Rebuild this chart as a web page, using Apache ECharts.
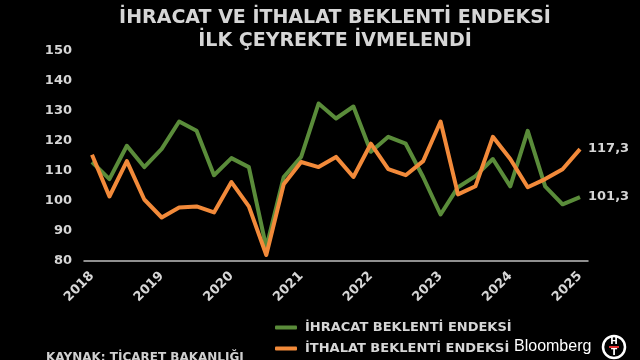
<!DOCTYPE html>
<html>
<head>
<meta charset="utf-8">
<script src="https://cdn.jsdelivr.net/npm/echarts@6/dist/echarts.min.js"></script>
<style>
html,body{margin:0;padding:0;background:#000;}
#c{width:640px;height:360px;}
</style>
</head>
<body>
<div id="c"></div>
<script>
var categories = ['2018Ç1','2018Ç2','2018Ç3','2018Ç4','2019Ç1','2019Ç2','2019Ç3','2019Ç4','2020Ç1','2020Ç2','2020Ç3','2020Ç4','2021Ç1','2021Ç2','2021Ç3','2021Ç4','2022Ç1','2022Ç2','2022Ç3','2022Ç4','2023Ç1','2023Ç2','2023Ç3','2023Ç4','2024Ç1','2024Ç2','2024Ç3','2024Ç4','2025Ç1'];
var yearLabels = ['2018','2019','2020','2021','2022','2023','2024','2025'];
var ihracat = [113.0,107.3,118.4,111.3,117.4,126.5,123.4,108.6,114.3,111.3,84.5,108.0,114.7,132.5,127.5,131.5,116.4,121.4,119.1,108.0,95.5,104.6,108.3,114.0,104.9,123.4,104.9,98.9,101.3];
var ithalat = [115.4,101.5,113.3,100.5,94.5,97.8,98.2,96.2,106.3,98.2,82.0,105.6,113.0,111.3,114.7,108.0,119.1,110.6,108.6,113.3,126.5,102.2,104.9,121.4,114.0,104.6,107.3,110.6,117.3];
var seriesNames = ['İHRACAT BEKLENTİ ENDEKSİ','İTHALAT BEKLENTİ ENDEKSİ'];
var yTicks = [80,90,100,110,120,130,140,150];

var GREEN = '#5a8c3a', ORANGE = '#f28a3a', TXT = '#d6d6d6';
var FONT = 'DejaVu Sans';

var chart = echarts.init(document.getElementById('c'), null, {renderer:'canvas'});
chart.setOption({
  backgroundColor:'#000',
  animation:false,
  title:{
    text:'İHRACAT VE İTHALAT BEKLENTİ ENDEKSİ\nİLK ÇEYREKTE İVMELENDİ',
    left:330, top:2, textAlign:'center',
    textStyle:{color:TXT, fontFamily:FONT, fontWeight:'bold', fontSize:19, lineHeight:23}
  },
  legend:{
    orient:'vertical', left:270, top:316, itemGap:8,
    itemWidth:22, itemHeight:4, icon:'roundRect',
    textStyle:{color:TXT, fontFamily:FONT, fontWeight:'bold', fontSize:13, padding:[0,0,0,3]},
    data:[{name:seriesNames[0]},{name:seriesNames[1]}]
  },
  grid:[
    {left:92, right:60, top:51, bottom:99},
    {left:84, right:52, top:51, bottom:99}
  ],
  xAxis:[
    {type:'category', gridIndex:0, data:categories, boundaryGap:false,
     axisLine:{show:false}, axisTick:{show:false},
     axisLabel:{interval:3, rotate:45, margin:13, color:TXT, fontFamily:FONT, fontWeight:'bold', fontSize:13,
       formatter:function(v,i){return yearLabels[i/4];}}},
    {type:'value', gridIndex:1, min:0, max:1,
     axisLine:{show:true, lineStyle:{color:'#bfbfbf', width:1.5}},
     axisTick:{show:false}, axisLabel:{show:false}, splitLine:{show:false}}
  ],
  yAxis:[
    {type:'value', gridIndex:0, min:80, max:150, interval:10,
     axisLine:{show:false}, axisTick:{show:false}, splitLine:{show:false},
     axisLabel:{margin:20, color:TXT, fontFamily:FONT, fontWeight:'bold', fontSize:13}},
    {type:'value', gridIndex:1, min:0, max:1, show:false}
  ],
  series:[
    {name:seriesNames[0], type:'line', data:ihracat, symbol:'none', color:GREEN,
     lineStyle:{width:4, color:GREEN, join:'round'},
     endLabel:{show:true, distance:8, color:TXT, fontFamily:FONT, fontWeight:'bold', fontSize:13,
       formatter:function(p){return String(p.value).replace('.',',');}}},
    {name:seriesNames[1], type:'line', data:ithalat, symbol:'none', color:ORANGE,
     lineStyle:{width:4, color:ORANGE, join:'round'},
     endLabel:{show:true, distance:8, color:TXT, fontFamily:FONT, fontWeight:'bold', fontSize:13,
       formatter:function(p){return String(p.value).replace('.',',');}}}
  ],
  graphic:[
    {type:'text', left:46, top:352, style:{text:'KAYNAK: TİCARET BAKANLIĞI', fill:'#cfcfcf', font:'bold 12px "DejaVu Sans"'}},
    {type:'text', left:514, top:339, style:{text:'Bloomberg', fill:'#ffffff', font:'16px "Liberation Sans"'}},
    {type:'circle', shape:{cx:614, cy:347, r:11}, style:{fill:'#000', stroke:'#fff', lineWidth:2.5}},
    {type:'text', style:{text:'H', x:614, y:342, fill:'#fff', font:'bold 9px "DejaVu Sans"', textAlign:'center', textVerticalAlign:'middle'}},
    {type:'rect', shape:{x:609, y:346, width:10, height:2}, style:{fill:'#e03030'}},
    {type:'text', style:{text:'T', x:614, y:353, fill:'#fff', font:'bold 9px "DejaVu Sans"', textAlign:'center', textVerticalAlign:'middle'}}
  ]
});
</script>
</body>
</html>
